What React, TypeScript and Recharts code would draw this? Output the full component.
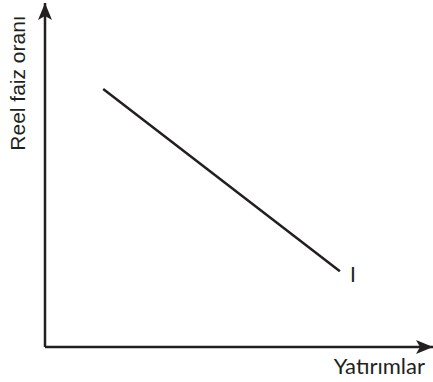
import { Label, LabelList, Line, LineChart, XAxis, YAxis } from "recharts"

// Investment demand curve: real interest rate vs. investment
const investment = [15, 76]
const realRate = [75, 22]
const curveTags = ["", "I"]

const xTitle = "Yatırımlar"
const yTitle = "Reel faiz oranı"

const ink = "#231f20"

const data = investment.map((x, i) => ({ x, y: realRate[i], tag: curveTags[i] }))

const CurveTag = (props: any) => {
  const { x, y, value } = props
  if (!value) return null
  return (
    <text x={x + 13} y={y + 11} textAnchor="middle" fill={ink} fontFamily="Lato" fontSize={21}>
      {value}
    </text>
  )
}

const XTitle = (props: any) => {
  const { viewBox } = props
  return (
    <text x={viewBox.x + viewBox.width - 8} y={viewBox.y + 27} textAnchor="end" fill={ink} fontFamily="Lato" fontSize={22}>
      {xTitle}
    </text>
  )
}

const YTitle = (props: any) => {
  const { viewBox } = props
  const cy = viewBox.y + 80
  return (
    <text
      x={25}
      y={cy}
      transform={`rotate(-90, 25, ${cy})`}
      textAnchor="middle"
      fill={ink}
      fontFamily="'Liberation Sans', Arial, sans-serif"
      fontSize={21}
    >
      {yTitle}
    </text>
  )
}

export default function App() {
  return (
    <div style={{ position: "absolute", left: 0, top: 0, width: 433, height: 382, background: "#fff" }}>
      <svg width={0} height={0} style={{ position: "absolute" }}>
        <defs>
          <marker
            id="axisArrow"
            viewBox="0 0 17 14"
            markerWidth={17}
            markerHeight={14}
            refX={17}
            refY={7}
            markerUnits="userSpaceOnUse"
            orient="auto-start-reverse"
          >
            <path d="M0,0 L17,7 L0,14 L4,7 Z" fill={ink} />
          </marker>
        </defs>
      </svg>
      <LineChart width={433} height={382} data={data} margin={{ top: 3, right: 0, bottom: 0, left: 0 }}>
        <XAxis
          type="number"
          dataKey="x"
          domain={[0, 100]}
          height={35}
          tick={false}
          tickLine={false}
          axisLine={{ stroke: ink, strokeWidth: 2.5, markerEnd: "url(#axisArrow)" } as any}
        >
          <Label content={<XTitle />} />
        </XAxis>
        <YAxis
          type="number"
          domain={[0, 100]}
          width={45}
          tick={false}
          tickLine={false}
          axisLine={{ stroke: ink, strokeWidth: 2.5, markerStart: "url(#axisArrow)" } as any}
        >
          <Label content={<YTitle />} />
        </YAxis>
        <Line
          type="linear"
          dataKey="y"
          stroke={ink}
          strokeWidth={2.5}
          dot={false}
          isAnimationActive={false}
        >
          <LabelList dataKey="tag" content={<CurveTag />} />
        </Line>
      </LineChart>
    </div>
  )
}
